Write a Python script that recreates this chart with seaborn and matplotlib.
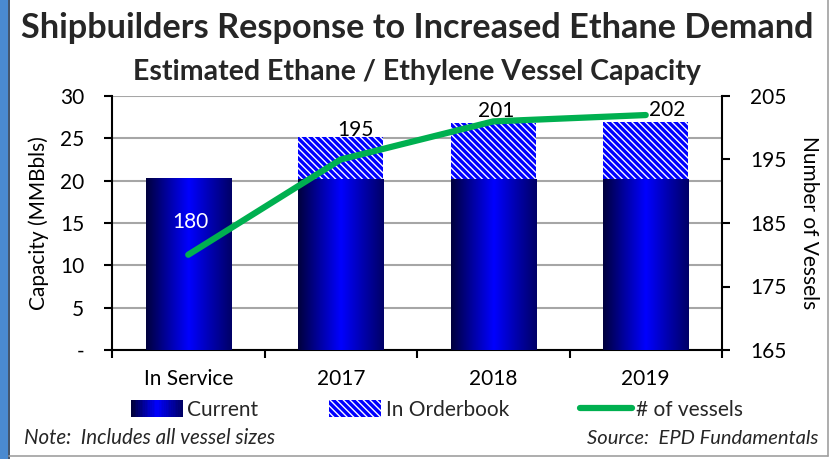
import numpy as np
import pandas as pd
import seaborn as sns
import matplotlib.pyplot as plt
from matplotlib import font_manager
from matplotlib.colors import LinearSegmentedColormap
from matplotlib.patches import Rectangle
from matplotlib.lines import Line2D
from matplotlib.legend_handler import HandlerBase

# data
categories = ["In Service", "2017", "2018", "2019"]
current = [20.3, 20.2, 20.2, 20.2]        # MMBbls
orderbook = [0.0, 5.0, 6.6, 6.7]          # MMBbls, stacked on top of current
vessels = [180, 195, 201, 202]            # number of vessels (right axis)
label_colors = ["white", "black", "black", "black"]
label_offsets = [(2, 33), (15, 29), (3, 10), (21, 5)]   # pixels from each point

sns.set_theme(style="ticks")
installed = {f.name for f in font_manager.fontManager.ttflist}
plt.rcParams['font.family'] = ['Lato', 'DejaVu Sans']
if 'Liberation Sans Narrow' in installed:
    title_font = ['Liberation Sans Narrow', 'Lato', 'DejaVu Sans']
else:
    title_font = ['Lato', 'DejaVu Sans']
plt.rcParams['hatch.linewidth'] = 2.4

fs = 15
green = '#00B050'
hatch = '\\' * 5
bar_cmap = LinearSegmentedColormap.from_list(
    'bar', ['#00003c', '#0000a0', '#0000ff', '#0000b0', '#000066'])

fig = plt.figure(figsize=(8.34, 4.59), dpi=100)
ax = fig.add_axes([112/834, 1-350/459, 610/834, 254/459])

total = [c + o for c, o in zip(current, orderbook)]
df = pd.DataFrame({"cat": categories, "current": current, "total": total})

# hatched bars = total (current + orderbook)
sns.barplot(data=df, x="cat", y="total", ax=ax, color="white", width=0.56,
            saturation=1, edgecolor="blue", linewidth=0)
n_tot = len(ax.patches)
for p in ax.patches:
    p.set_hatch(hatch)
    p.set_facecolor('white')
    p.set_edgecolor('blue')
    p.set_linewidth(0)
    p.set_zorder(2)

# current capacity bars, filled with a gradient
sns.barplot(data=df, x="cat", y="current", ax=ax, color="#000080", width=0.56,
            saturation=1, linewidth=0)
grad = np.linspace(0, 1, 256).reshape(1, -1)
for p in ax.patches[n_tot:]:
    p.set_zorder(3)
    x0, y0, w, h = p.get_x(), p.get_y(), p.get_width(), p.get_height()
    im = ax.imshow(grad, extent=[x0, x0 + w, y0, y0 + h], cmap=bar_cmap,
                   aspect='auto', zorder=3.1, interpolation='bicubic')
    im.set_clip_path(p)

ax.set_xlim(-0.5, 3.5)
ax.set_ylim(0, 30)
ax.set_axisbelow(True)
ax.yaxis.grid(True, color='#a6a6a6', linewidth=1.5)
ax.xaxis.grid(False)

ax.set_yticks(range(0, 31, 5))
ax.set_yticklabels(['-'] + [str(v) for v in range(5, 31, 5)])
ax.set_xticks(range(len(categories)))
ax.set_xticklabels(categories)
ax.set_xticks(np.arange(-0.5, len(categories), 1.0), minor=True)
ax.tick_params(axis='x', which='major', length=0, pad=14, labelsize=fs, colors='black')
ax.tick_params(axis='x', which='minor', length=6, width=1.5, direction='out', color='black')
ax.tick_params(axis='y', length=6, width=1.5, direction='out', pad=14,
               labelsize=fs, colors='black')
ax.set_xlabel('')
ax.set_ylabel('Capacity (MMBbls)', fontsize=fs, color='black', labelpad=8)
for s in ['left', 'bottom']:
    ax.spines[s].set_color('black')
    ax.spines[s].set_linewidth(1.5)
ax.spines['top'].set_visible(False)
ax.spines['right'].set_visible(False)

# number of vessels on the right axis
ax2 = ax.twinx()
sns.lineplot(x=np.arange(len(vessels)), y=vessels, ax=ax2, color=green,
             linewidth=4.5, solid_capstyle='round')
ax2.set_ylim(165, 205)
ax2.set_yticks(range(165, 206, 10))
ax2.tick_params(axis='y', length=6, width=1.5, direction='out', pad=14,
                labelsize=fs, colors='black')
ax2.set_ylabel('Number of Vessels', fontsize=fs, color='black',
               rotation=270, labelpad=24)
for s in ['left', 'bottom', 'top']:
    ax2.spines[s].set_visible(False)
ax2.spines['right'].set_color('black')
ax2.spines['right'].set_linewidth(1.5)

for i, v in enumerate(vessels):
    ax2.annotate(str(v), (i, v), xytext=label_offsets[i], textcoords='offset pixels',
                 ha='center', va='center', fontsize=fs, color=label_colors[i])

# titles
fig.text(0.5, 1 - 38/459, 'Shipbuilders Response to Increased Ethane Demand',
         ha='center', va='baseline', fontsize=24.7, fontweight='bold', family=title_font)
fig.text(0.5, 1 - 80/459, 'Estimated Ethane / Ethylene Vessel Capacity',
         ha='center', va='baseline', fontsize=20.5, fontweight='bold', family=title_font)


# legend
class GradientHandler(HandlerBase):
    def create_artists(self, legend, orig_handle, xdescent, ydescent,
                       width, height, fontsize, trans):
        n = 30
        out = []
        for k in range(n):
            out.append(Rectangle((-xdescent + width * k / n, -ydescent), width / n * 1.1,
                                 height, facecolor=bar_cmap(k / (n - 1)),
                                 edgecolor='none', transform=trans))
        return out


h_current = Rectangle((0, 0), 1, 1, facecolor='#0000a0')
h_order = Rectangle((0, 0), 1, 1, facecolor='white', edgecolor='blue',
                    linewidth=0, hatch=hatch)
h_line = Line2D([], [], color=green, linewidth=4.5)
fig.legend([h_current, h_order, h_line], ['Current', 'In Orderbook', '# of vessels'],
           handler_map={h_current: GradientHandler()},
           loc='center', bbox_to_anchor=(437/834, 1 - 410/459), ncol=3, frameon=False,
           fontsize=fs, handlelength=2.5, handleheight=0.9, handletextpad=0.2,
           columnspacing=3.4)

fig.text(24/834, 1 - 438/459, 'Note:  Includes all vessel sizes', ha='left', va='center',
         fontsize=14.8, style='italic')
fig.text(818/834, 1 - 438/459, 'Source:  EPD Fundamentals', ha='right', va='center',
         fontsize=14.5, style='italic')

# slide frame
fig.patches.append(Rectangle((0, 0), 8/834, 1, transform=fig.transFigure,
                             facecolor='#4a8ad0', edgecolor='none'))
fig.lines.append(Line2D([8.5/834, 8.5/834], [0, 1], transform=fig.transFigure,
                        color='#1f3550', linewidth=1.2))
fig.lines.append(Line2D([8.5/834, 828/834], [3/459, 3/459], transform=fig.transFigure,
                        color='#a0a0a0', linewidth=1.2))
fig.lines.append(Line2D([828/834, 828/834], [3/459, 1], transform=fig.transFigure,
                        color='#a0a0a0', linewidth=1.2))

fig.savefig('out.png', dpi=100)
